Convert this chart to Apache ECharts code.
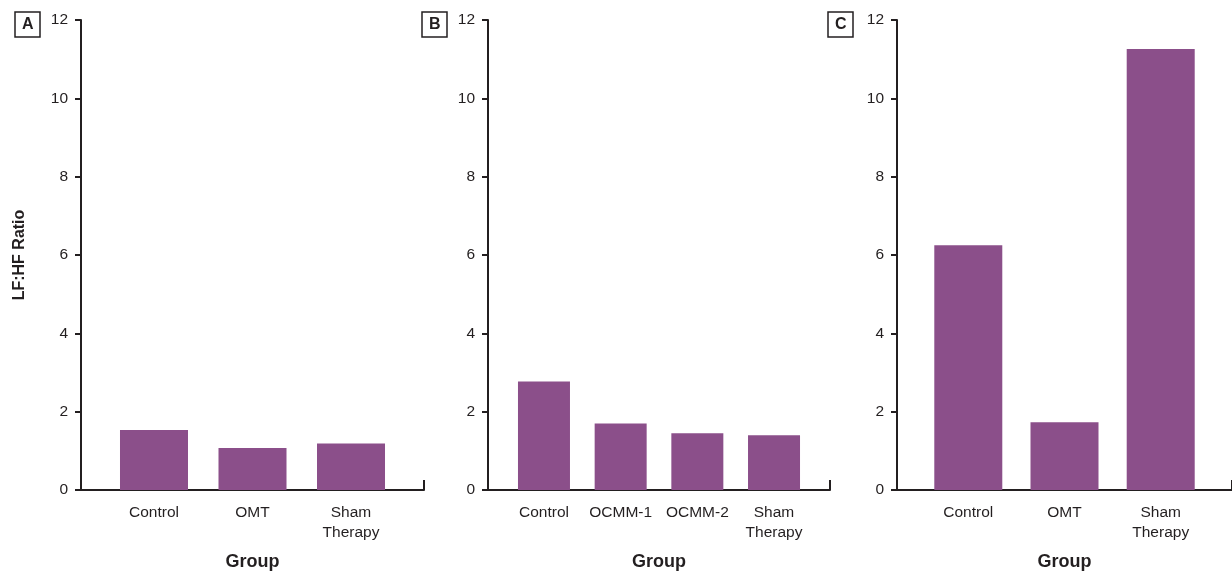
<!DOCTYPE html>
<html>
<head>
<meta charset="utf-8">
<script src="https://cdn.jsdelivr.net/npm/echarts@6/dist/echarts.min.js"></script>
<style>html,body{margin:0;padding:0;background:#fff}#c{width:1232px;height:576px}</style>
</head>
<body>
<div id="c"></div>
<script>
// Data
var catsA = ['Control', 'OMT', 'Sham\nTherapy'];
var valsA = [1.53, 1.07, 1.19];
var catsB = ['Control', 'OCMM-1', 'OCMM-2', 'Sham\nTherapy'];
var valsB = [2.77, 1.70, 1.45, 1.40];
var catsC = ['Control', 'OMT', 'Sham\nTherapy'];
var valsC = [6.25, 1.73, 11.26];
var panelLetters = ['A', 'B', 'C'];
var yTicks = [0, 2, 4, 6, 8, 10, 12];

var FONT = 'Liberation Sans, Arial, sans-serif';
var INK = '#231f20';
var BAR = '#8b4f8a';

var panels = [
  {cats: catsA, vals: valsA, left: 81, width: 343, pad: 0.741, barW: 68, yName: 'LF:HF Ratio'},
  {cats: catsB, vals: valsB, left: 488, width: 342, pad: 0.73, barW: 52, yName: ''},
  {cats: catsC, vals: valsC, left: 897, width: 342, pad: 0.741, barW: 68, yName: ''}
];

var grids = [], xAxes = [], yAxes = [], series = [], titles = [];
var titlePos = [15, 422, 828];
panels.forEach(function (p, i) {
  grids.push({left: p.left, width: p.width, top: 20, bottom: 83, containLabel: false});
  var maxX = p.cats.length - 1 + p.pad;
  xAxes.push({
    type: 'value', gridIndex: i, min: -p.pad, max: maxX,
    name: 'Group', nameLocation: 'middle', nameGap: 63,
    nameTextStyle: {fontFamily: FONT, fontWeight: 'bold', fontSize: 18, color: INK},
    axisLine: {show: true, onZero: false, lineStyle: {color: INK, width: 2}},
    axisTick: {show: true, inside: true, length: 10, lineStyle: {color: INK, width: 2}, customValues: [maxX]},
    splitLine: {show: false},
    axisLabel: {
      show: true, margin: 13, fontFamily: FONT, fontSize: 15.5, color: INK, lineHeight: 20,
      customValues: p.cats.map(function (c, k) { return k; }),
      formatter: function (v) { return p.cats[Math.round(v)]; }
    }
  });
  yAxes.push({
    type: 'value', gridIndex: i, min: yTicks[0], max: yTicks[yTicks.length - 1], interval: 2,
    name: p.yName, nameLocation: 'middle', nameGap: 53,
    nameTextStyle: {fontFamily: FONT, fontWeight: 'bold', fontSize: 16, color: INK},
    axisLine: {show: true, onZero: false, lineStyle: {color: INK, width: 2}},
    axisTick: {show: true, length: 6, lineStyle: {color: INK, width: 2}},
    splitLine: {show: false},
    axisLabel: {margin: 13, fontFamily: FONT, fontSize: 15.5, color: INK}
  });
  series.push({
    type: 'bar', xAxisIndex: i, yAxisIndex: i, barWidth: p.barW,
    itemStyle: {color: BAR},
    data: p.vals.map(function (v, k) { return [k, v]; })
  });
  titles.push({
    text: panelLetters[i], left: titlePos[i], top: 12,
    borderColor: INK, borderWidth: 1.5, padding: [5, 7, 4, 7],
    textStyle: {fontFamily: FONT, fontWeight: 'bold', fontSize: 16, color: INK}
  });
});

var chart = echarts.init(document.getElementById('c'), null, {renderer: 'canvas'});
chart.setOption({
  backgroundColor: '#fff',
  animation: false,
  title: titles,
  grid: grids,
  xAxis: xAxes,
  yAxis: yAxes,
  series: series
});
</script>
</body>
</html>
